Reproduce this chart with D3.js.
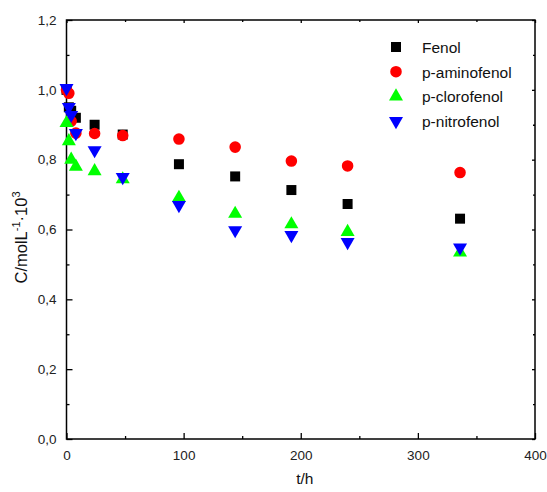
<!DOCTYPE html>
<html>
<head>
<meta charset="utf-8">
<script src="https://cdn.jsdelivr.net/npm/d3@7"></script>
<style>
  body { margin: 0; background: #fff; }
  text { font-family: Arial, "Liberation Sans", sans-serif; }
</style>
</head>
<body>
<svg id="chart"></svg>
<script>
// times (h) and concentrations (mol/L x 10^3)
var times = [0, 2, 4, 8, 24, 48, 96, 144, 192, 240, 336];
var fenol = [1.0, 0.95, 0.94, 0.92, 0.90, 0.872, 0.787, 0.752, 0.713, 0.673, 0.631];
var aminofenol = [1.0, 0.99, 0.91, 0.876, 0.875, 0.869, 0.859, 0.836, 0.796, 0.782, 0.763];
var clorofenol = [0.905, 0.853, 0.80, 0.78, 0.767, 0.744, 0.691, 0.645, 0.615, 0.593, 0.534];
var nitrofenol = [1.005, 0.951, 0.928, 0.876, 0.827, 0.75, 0.670, 0.598, 0.584, 0.564, 0.548];
var seriesNames = ['Fenol', 'p-aminofenol', 'p-clorofenol', 'p-nitrofenol'];
var xTicks = [0, 100, 200, 300, 400];
var yTicks = [0, 0.2, 0.4, 0.6, 0.8, 1.0, 1.2];

var W = 547, H = 492;
var m = {left: 66.5, top: 20, right: 12, bottom: 53};
var svg = d3.select('#chart').attr('width', W).attr('height', H);

var x = d3.scaleLinear().domain([0, 400]).range([m.left, W - m.right]);
var y = d3.scaleLinear().domain([0, 1.2]).range([H - m.bottom, m.top]);

var series = [
  {name: seriesNames[0], vals: fenol, color: '#000000', sym: d3.symbolSquare, size: 100, rot: 0},
  {name: seriesNames[1], vals: aminofenol, color: '#ff0000', sym: d3.symbolCircle, size: 105, rot: 0},
  {name: seriesNames[2], vals: clorofenol, color: '#00ff00', sym: d3.symbolTriangle, size: 85, rot: 0},
  {name: seriesNames[3], vals: nitrofenol, color: '#0000ff', sym: d3.symbolTriangle, size: 85, rot: 180}
];

var fmt = function(d) { return d3.format('.1f')(d).replace('.', ','); };

// axes with inward ticks
function axisG(axis, tr) {
  var g = svg.append('g').attr('transform', tr).call(axis);
  g.select('.domain').remove();
  g.selectAll('line').attr('stroke', '#000').attr('stroke-width', 1.3);
  g.selectAll('text').attr('font-size', 13.5).attr('fill', '#222');
  return g;
}
var yMinor = d3.range(0.1, 1.2, 0.2);
var xMinor = [50, 150, 250, 350];

axisG(d3.axisLeft(y).tickValues(yTicks).tickFormat(fmt).tickSize(-6).tickPadding(10), 'translate(' + m.left + ',0)');
axisG(d3.axisLeft(y).tickValues(yMinor).tickFormat('').tickSize(-3), 'translate(' + m.left + ',0)');
axisG(d3.axisBottom(x).tickValues(xTicks).tickFormat(d3.format('d')).tickSize(-6).tickPadding(11), 'translate(0,' + (H - m.bottom) + ')');
axisG(d3.axisBottom(x).tickValues(xMinor).tickFormat('').tickSize(-3), 'translate(0,' + (H - m.bottom) + ')');
axisG(d3.axisRight(y).tickValues(yTicks).tickFormat('').tickSize(-3), 'translate(' + (W - m.right) + ',0)');
axisG(d3.axisRight(y).tickValues(yMinor).tickFormat('').tickSize(-2), 'translate(' + (W - m.right) + ',0)');
axisG(d3.axisTop(x).tickValues(xTicks).tickFormat('').tickSize(-3), 'translate(0,' + m.top + ')');
axisG(d3.axisTop(x).tickValues(xMinor).tickFormat('').tickSize(-2), 'translate(0,' + m.top + ')');

svg.append('rect')
  .attr('x', m.left).attr('y', m.top)
  .attr('width', W - m.right - m.left).attr('height', H - m.bottom - m.top)
  .attr('fill', 'none').attr('stroke', '#000').attr('stroke-width', 1.5);

// points
series.forEach(function(s) {
  svg.append('g').selectAll('path')
    .data(s.vals)
    .join('path')
    .attr('d', d3.symbol().type(s.sym).size(s.size))
    .attr('transform', function(d, i) {
      return 'translate(' + x(times[i]) + ',' + y(d) + ') rotate(' + s.rot + ')';
    })
    .attr('fill', s.color);
});

// legend
var lg = svg.append('g').attr('transform', 'translate(396,47)');
series.forEach(function(s, i) {
  var row = lg.append('g').attr('transform', 'translate(0,' + (i * 24.7) + ')');
  row.append('path')
    .attr('d', d3.symbol().type(s.sym).size(s.size))
    .attr('transform', 'rotate(' + s.rot + ')')
    .attr('fill', s.color);
  row.append('text').attr('x', 26).attr('y', 6)
    .attr('font-size', 15.5).attr('fill', '#111').text(s.name);
});

// axis titles
svg.append('text').attr('x', x(200) + 4).attr('y', 484)
  .attr('text-anchor', 'middle').attr('font-size', 15.5).attr('fill', '#111').text('t/h');

var yt = svg.append('text')
  .attr('transform', 'translate(27,' + ((m.top + H - m.bottom) / 2 + 8) + ') rotate(-90)')
  .attr('text-anchor', 'middle').attr('font-size', 16.5).attr('fill', '#111');
yt.append('tspan').text('C/molL');
yt.append('tspan').attr('font-size', 11).attr('dy', -7).text('-1');
yt.append('tspan').attr('dy', 7).text('·10');
yt.append('tspan').attr('font-size', 11).attr('dy', -7).text('3');
</script>
</body>
</html>
